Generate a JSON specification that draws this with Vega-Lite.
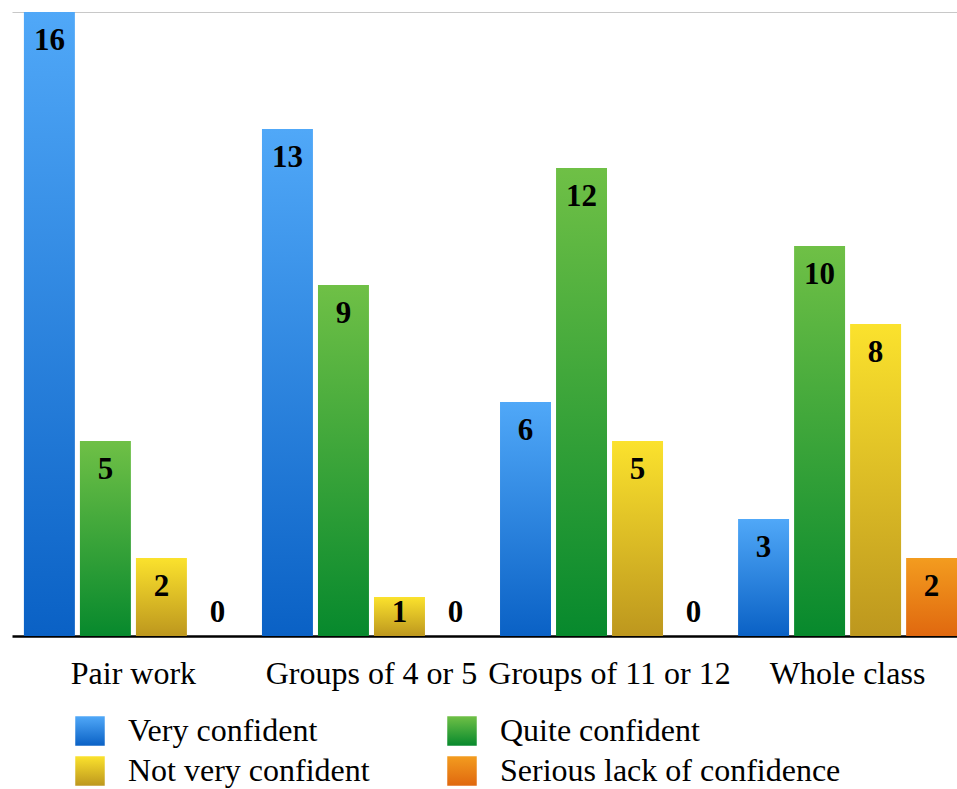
{
  "$schema": "https://vega.github.io/schema/vega-lite/v6.json",
  "autosize": {"type": "none"},
  "width": 945,
  "height": 624,
  "padding": {"left": 12, "top": 12, "right": 0, "bottom": 153},
  "background": "white",
  "config": {"view": {"stroke": null}, "font": "Liberation Serif"},
  "data": {"values": [
    {"group": "Pair work", "series": "Very confident", "value": 16},
    {"group": "Pair work", "series": "Quite confident", "value": 5},
    {"group": "Pair work", "series": "Not very confident", "value": 2},
    {"group": "Pair work", "series": "Serious lack of confidence", "value": 0},
    {"group": "Groups of 4 or 5", "series": "Very confident", "value": 13},
    {"group": "Groups of 4 or 5", "series": "Quite confident", "value": 9},
    {"group": "Groups of 4 or 5", "series": "Not very confident", "value": 1},
    {"group": "Groups of 4 or 5", "series": "Serious lack of confidence", "value": 0},
    {"group": "Groups of 11 or 12", "series": "Very confident", "value": 6},
    {"group": "Groups of 11 or 12", "series": "Quite confident", "value": 12},
    {"group": "Groups of 11 or 12", "series": "Not very confident", "value": 5},
    {"group": "Groups of 11 or 12", "series": "Serious lack of confidence", "value": 0},
    {"group": "Whole class", "series": "Very confident", "value": 3},
    {"group": "Whole class", "series": "Quite confident", "value": 10},
    {"group": "Whole class", "series": "Not very confident", "value": 8},
    {"group": "Whole class", "series": "Serious lack of confidence", "value": 2}
  ]},
  "encoding": {
    "x": {
      "field": "group", "type": "nominal", "sort": null,
      "scale": {"range": [0, 957], "paddingInner": 0.08, "paddingOuter": 0.05},
      "axis": {"title": null, "labelAngle": 0, "ticks": false, "labelPadding": 22, "labelLimit": 500,
               "labelFont": "Liberation Serif", "labelFontSize": 32, "labelColor": "#000",
               "domainColor": "#000", "domainWidth": 2.5, "grid": false}
    },
    "xOffset": {
      "field": "series", "type": "nominal", "sort": ["Very confident", "Quite confident", "Not very confident", "Serious lack of confidence"],
      "scale": {"paddingInner": 0.09, "paddingOuter": 0}
    },
    "y": {
      "field": "value", "type": "quantitative",
      "scale": {"domain": [0, 16], "nice": false},
      "axis": {"title": null, "values": [16], "labels": false, "ticks": false, "domain": false,
               "grid": true, "gridColor": "#c8c8c8", "gridWidth": 1.2}
    }
  },
  "layer": [
    {
      "mark": {"type": "bar"},
      "encoding": {
        "color": {
          "field": "series", "type": "nominal",
          "scale": {"domain": ["Very confident", "Not very confident", "Quite confident", "Serious lack of confidence"],
                    "range": [
                      {"expr": "{gradient: 'linear', x1: 0, y1: 0, x2: 0, y2: 1, stops: [{offset: 0, color: '#50a8f8'}, {offset: 1, color: '#0a61c5'}]}"},
                      {"expr": "{gradient: 'linear', x1: 0, y1: 0, x2: 0, y2: 1, stops: [{offset: 0, color: '#fbe22d'}, {offset: 1, color: '#bd971e'}]}"},
                      {"expr": "{gradient: 'linear', x1: 0, y1: 0, x2: 0, y2: 1, stops: [{offset: 0, color: '#6fc046'}, {offset: 1, color: '#07892d'}]}"},
                      {"expr": "{gradient: 'linear', x1: 0, y1: 0, x2: 0, y2: 1, stops: [{offset: 0, color: '#f39c1f'}, {offset: 1, color: '#e0680f'}]}"}
                    ]},
          "legend": {
            "title": null, "orient": "none", "legendX": 62, "legendY": 703,
            "columns": 2, "columnPadding": 76, "rowPadding": 8,
            "symbolType": "square", "symbolSize": 870, "symbolOpacity": 1, "symbolStrokeWidth": 0,
            "labelFont": "Liberation Serif", "labelFontSize": 32, "labelColor": "#000", "labelOffset": 22,
            "labelLimit": 500
          }
        }
      }
    },
    {
      "transform": [{"filter": "datum.value >= 2"}],
      "mark": {"type": "text", "font": "Liberation Serif", "fontWeight": "bold", "fontSize": 31, "color": "#000", "baseline": "alphabetic", "dy": 38},
      "encoding": {"text": {"field": "value", "type": "quantitative"}}
    },
    {
      "transform": [{"filter": "datum.value === 1"}],
      "mark": {"type": "text", "font": "Liberation Serif", "fontWeight": "bold", "fontSize": 31, "color": "#000", "baseline": "alphabetic", "dy": 25},
      "encoding": {"text": {"field": "value", "type": "quantitative"}}
    },
    {
      "transform": [{"filter": "datum.value === 0"}],
      "mark": {"type": "text", "font": "Liberation Serif", "fontWeight": "bold", "fontSize": 31, "color": "#000", "baseline": "alphabetic", "dy": -14},
      "encoding": {"text": {"field": "value", "type": "quantitative"}}
    }
  ]
}
